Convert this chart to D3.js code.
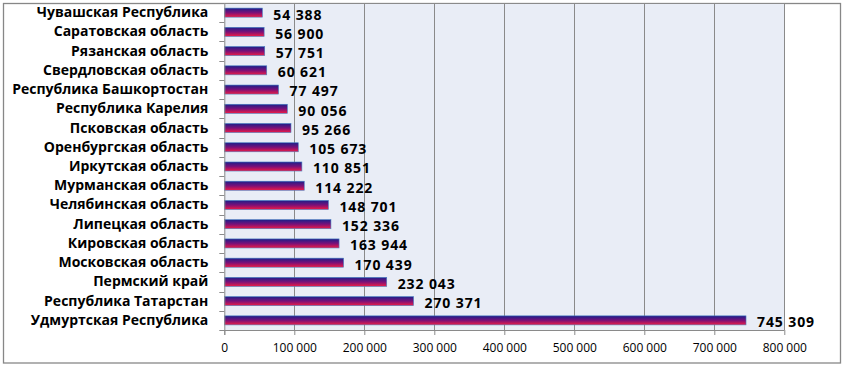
<!DOCTYPE html>
<html><head><meta charset="utf-8">
<script src="https://cdn.jsdelivr.net/npm/d3@7"></script>
<style>body{margin:0;background:#fff}svg{display:block}</style>
</head><body>
<svg id="c" width="845" height="369"></svg>
<script>
const categories = ["Чувашская Республика","Саратовская область","Рязанская область","Свердловская область","Республика Башкортостан","Республика Карелия","Псковская область","Оренбургская область","Иркутская область","Мурманская область","Челябинская область","Липецкая область","Кировская область","Московская область","Пермский край","Республика Татарстан","Удмуртская Республика"];
const values = [54388,56900,57751,60621,77497,90056,95266,105673,110851,114222,148701,152336,163944,170439,232043,270371,745309];
const ticks = [0,100000,200000,300000,400000,500000,600000,700000,800000];

const svg = d3.select("#c");
const L = 224.3, R = 784.3, T = 3, B = 330;
const fmt = v => d3.format(",")(v).replace(/,/g, "\u00a0");

svg.append("rect").attr("x",3.5).attr("y",3.5).attr("width",837).attr("height",359.5)
  .attr("fill","#fff").attr("stroke","#878787").attr("stroke-width",1.3);

const x = d3.scaleLinear().domain([0,800000]).range([L,R]);
const y = d3.scaleBand().domain(categories).range([T,B]).paddingInner(0.53).paddingOuter(0.265);
const yb = d3.scaleBand().domain(categories).range([T,B]);

const defs = svg.append("defs");
const g = defs.append("linearGradient").attr("id","bg").attr("x1",0).attr("y1",0).attr("x2",0).attr("y2",1);
g.append("stop").attr("offset","0%").attr("stop-color","#1c1f8a");
g.append("stop").attr("offset","50%").attr("stop-color","#7a1078");
g.append("stop").attr("offset","100%").attr("stop-color","#ee1b45");

svg.append("rect").attr("x",L).attr("y",T).attr("width",R-L).attr("height",B-T).attr("fill","#e9edf6");

svg.append("g").selectAll("line").data(ticks.slice(1)).join("line")
  .attr("x1",d=>Math.round(x(d))+0.5).attr("x2",d=>Math.round(x(d))+0.5).attr("y1",T).attr("y2",B)
  .attr("stroke","#8a8a8a").attr("stroke-width",1);
svg.append("line").attr("x1",L).attr("x2",R).attr("y1",T+0.5).attr("y2",T+0.5).attr("stroke","#8a8a8a");

svg.append("g").selectAll("rect").data(values).join("rect")
  .attr("x",L).attr("y",(d,i)=>y(categories[i]))
  .attr("width",d=>x(d)-L).attr("height",y.bandwidth())
  .attr("fill","url(#bg)").attr("stroke","#4a7ec0").attr("stroke-width",0.6);

// x axis
const xa = svg.append("g").attr("transform",`translate(0,${B})`)
  .call(d3.axisBottom(x).tickValues(ticks).tickSize(5).tickFormat(fmt));
xa.select(".domain").attr("stroke","#8a8a8a").attr("d",`M${L},0.5H${R}`);
xa.selectAll(".tick line").attr("stroke","#8a8a8a");
xa.selectAll(".tick text").attr("font-family","'Open Sans', sans-serif").attr("font-size",12)
  .attr("fill","#000").attr("dy","1.2em");

// y axis
const ya = svg.append("g").attr("transform",`translate(${L},0)`)
  .call(d3.axisLeft(yb).tickSize(0).tickPadding(16));
ya.select(".domain").attr("stroke","#8a8a8a").attr("d",`M0.5,${T}V${B+5}`);
ya.selectAll(".tick text").attr("font-family","'Open Sans', sans-serif").attr("font-weight","bold")
  .attr("font-size",14).attr("fill","#000");
const bounds = categories.map((c,i)=>yb(c)).slice(1).concat([B]);
svg.append("g").selectAll("line").data(bounds).join("line")
  .attr("x1",L-5).attr("x2",L).attr("y1",d=>Math.round(d)+0.5).attr("y2",d=>Math.round(d)+0.5)
  .attr("stroke","#8a8a8a");

// value labels
svg.append("g").selectAll("text").data(values).join("text")
  .attr("x",d=>x(d)+11).attr("y",(d,i)=>yb(categories[i])+yb.bandwidth()/2+2)
  .attr("dy","0.35em").attr("font-family","'Open Sans', sans-serif").attr("font-weight","bold")
  .attr("font-size",14).attr("letter-spacing","0.9px").attr("fill","#000").text(fmt);
</script>
</body></html>
